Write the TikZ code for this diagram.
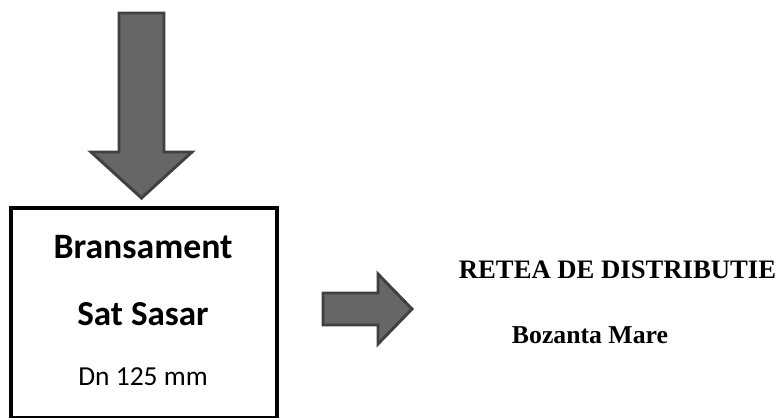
\documentclass[tikz,border=0pt]{standalone}
\usepackage{fontspec}
\setmainfont{Carlito}
\newfontfamily\timesfont{Liberation Serif}
\begin{document}
\begin{tikzpicture}[x=0.75pt,y=-0.75pt,
  bigarrow/.style={fill=black!60,draw=black!75,line width=2.2pt,line join=miter},
  boxstyle/.style={draw=black,line width=3pt}]
\useasboundingbox (0,0) rectangle (780,417);
% down arrow
\draw[bigarrow] (119,13) -- (164,13) -- (164,152) -- (192,152) -- (141.5,198) -- (91,152) -- (119,152) -- cycle;
% box
\draw[boxstyle] (11,208) rectangle (277,418);
\node[font=\fontsize{26.8}{30}\selectfont\bfseries] (b1) at (143,247) {Bransament};
\node[font=\fontsize{26.3}{30}\selectfont\bfseries] (b2) at (143,314) {Sat Sasar};
\node[font=\fontsize{20.6}{24}\selectfont] (b3) at (143,377) {Dn 125 mm};
% right arrow
\draw[bigarrow] (323,293) -- (378,293) -- (378,274) -- (412,309) -- (378,344) -- (378,325) -- (323,325) -- cycle;
\node[font=\timesfont\fontsize{20}{23}\selectfont\bfseries] (t1) at (617.5,270) {RETEA DE DISTRIBUTIE};
\node[font=\timesfont\fontsize{19.3}{22}\selectfont\bfseries] (t2) at (590,335) {Bozanta Mare};
\end{tikzpicture}
\end{document}
